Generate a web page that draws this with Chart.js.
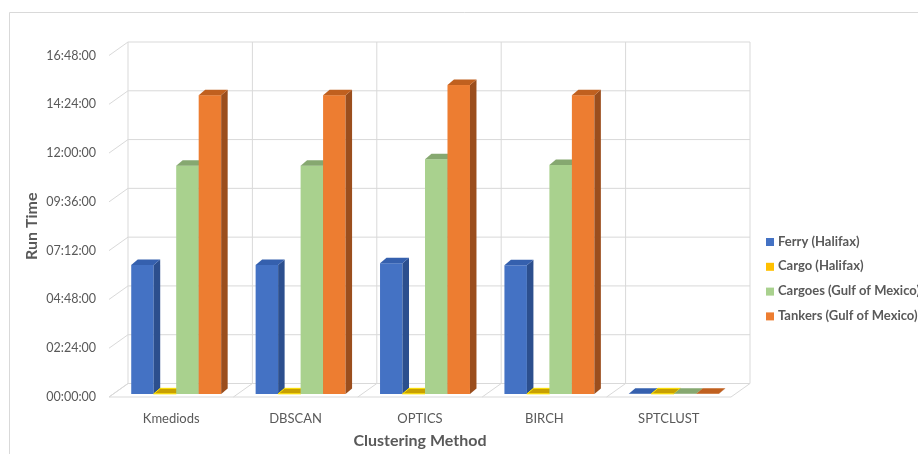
<!DOCTYPE html>
<html>
<head>
<meta charset="utf-8">
<script src="https://cdn.jsdelivr.net/npm/chart.js@4/dist/chart.umd.min.js"></script>
<style>
  html, body { margin: 0; padding: 0; background: #ffffff; }
  #wrap { position: relative; width: 918px; height: 454px; }
</style>
</head>
<body>
<div id="wrap"><canvas id="runtime" width="918" height="454"></canvas></div>
<script>
// Run time of each clustering method per dataset (HH:MM:SS)
const methods = ['Kmediods', 'DBSCAN', 'OPTICS', 'BIRCH', 'SPTCLUST'];
const ferryHalifax   = ['06:21:00', '06:21:00', '06:26:00', '06:20:00', '00:00:30'];
const cargoHalifax   = ['00:00:30', '00:00:30', '00:00:30', '00:00:30', '00:00:30'];
const cargoesGulf    = ['11:14:00', '11:14:00', '11:33:00', '11:16:00', '00:00:30'];
const tankersGulf    = ['14:42:00', '14:42:00', '15:12:00', '14:42:00', '00:00:30'];
const seriesNames = ['Ferry (Halifax)', 'Cargo (Halifax)', 'Cargoes (Gulf of Mexico)', 'Tankers (Gulf of Mexico)'];
const timeTicks = ['00:00:00', '02:24:00', '04:48:00', '07:12:00', '09:36:00', '12:00:00', '14:24:00', '16:48:00'];

// Face colours for the box-shaped bars
const frontColors = ['#4472C4', '#FFC000', '#A9D18E', '#ED7D31'];
const sideColors  = ['#2C4F8E', '#B08500', '#7C9D66', '#9B4E1D'];
const topColors   = ['#3560AE', '#C8A000', '#86A870', '#C0601F'];
const edgeColors  = [null, '#FFE400', null, null];

const toSeconds = s => { const [h, m, sec] = s.split(':').map(Number); return h * 3600 + m * 60 + sec; };

const TEXT = '#595959';
const GRID = '#D9D9D9';
const FONT = 'Lato, "Open Sans", sans-serif';
const WALL = { x: 19, y: -13.5 };     // depth of the back wall
const SHIFT = { x: 5, y: -3 };        // bars stand a little behind the front edge
const DEPTH = { x: 6.5, y: -5.5 };    // depth of each bar

function line(ctx, x1, y1, x2, y2) {
  ctx.beginPath(); ctx.moveTo(x1, y1); ctx.lineTo(x2, y2); ctx.stroke();
}
function poly(ctx, pts, fill, stroke) {
  ctx.beginPath();
  ctx.moveTo(pts[0][0], pts[0][1]);
  for (let i = 1; i < pts.length; i++) ctx.lineTo(pts[i][0], pts[i][1]);
  ctx.closePath();
  ctx.fillStyle = fill; ctx.fill();
  if (stroke) { ctx.strokeStyle = stroke; ctx.lineWidth = 1; ctx.stroke(); }
}

const box3d = {
  id: 'box3d',
  beforeDraw(chart) {
    const { ctx, chartArea: a } = chart;
    const ys = chart.scales.y, xs = chart.scales.x;
    ctx.save();
    ctx.fillStyle = '#ffffff';
    ctx.fillRect(0, 0, chart.width, chart.height);
    // outer frame
    ctx.strokeStyle = '#D9D9D9'; ctx.lineWidth = 1;
    line(ctx, 9.5, 12.5, chart.width + 2, 12.5);
    line(ctx, 9.5, 12.5, 9.5, chart.height + 2);

    ctx.strokeStyle = GRID; ctx.lineWidth = 1;
    // back wall gridlines and side wall diagonals
    ys.ticks.forEach(t => {
      const y = ys.getPixelForValue(t.value);
      line(ctx, a.left, y, a.left + WALL.x, y + WALL.y);
      line(ctx, a.left + WALL.x, y + WALL.y, a.right + WALL.x, y + WALL.y);
    });
    // category dividers on the back wall and floor
    const cw = (a.right - a.left) / methods.length;
    for (let i = 0; i <= methods.length; i++) {
      const x = (i < methods.length ? xs.getPixelForValue(i) - cw / 2 : xs.getPixelForValue(i - 1) + cw / 2);
      line(ctx, x + WALL.x, a.top + WALL.y, x + WALL.x, a.bottom + WALL.y);
      line(ctx, x, a.bottom, x + WALL.x, a.bottom + WALL.y);
    }
    // floor front edge
    line(ctx, a.left, a.bottom, a.right, a.bottom);
    ctx.restore();
  },
  beforeDatasetsDraw(chart) {
    const { ctx } = chart;
    ctx.save();
    chart.data.datasets.forEach((ds, di) => {
      const meta = chart.getDatasetMeta(di);
      meta.data.forEach(bar => {
        const p = bar.getProps(['x', 'y', 'base', 'width'], true);
        const l = p.x - p.width / 2 + SHIFT.x, r = p.x + p.width / 2 + SHIFT.x;
        const t = p.y + SHIFT.y, b = p.base + SHIFT.y;
        // front face
        ctx.fillStyle = frontColors[di];
        ctx.fillRect(l, t, r - l, b - t);
        // side face
        poly(ctx, [[r, t], [r + DEPTH.x, t + DEPTH.y], [r + DEPTH.x, b + DEPTH.y], [r, b]], sideColors[di]);
        // top face
        poly(ctx, [[l, t], [l + DEPTH.x, t + DEPTH.y], [r + DEPTH.x, t + DEPTH.y], [r, t]], topColors[di], edgeColors[di]);
      });
    });
    ctx.restore();
    return false;
  },
  afterDraw(chart) {
    const { ctx, chartArea: a } = chart;
    ctx.save();
    ctx.font = 'bold 13px ' + FONT;
    ctx.textBaseline = 'middle';
    ctx.textAlign = 'left';
    seriesNames.forEach((name, i) => {
      const cy = 241.5 + i * 24.8;
      const x = a.right + 35;
      ctx.fillStyle = frontColors[i];
      ctx.fillRect(x, cy - 3.5, 8, 8);
      ctx.fillStyle = TEXT;
      ctx.fillText(name, x + 12, cy);
    });
    ctx.restore();
  }
};

const series = [ferryHalifax, cargoHalifax, cargoesGulf, tankersGulf];

new Chart(document.getElementById('runtime'), {
  type: 'bar',
  data: {
    labels: methods,
    datasets: series.map((vals, i) => ({
      label: seriesNames[i],
      data: vals.map(toSeconds),
      backgroundColor: frontColors[i],
      barPercentage: 1,
      categoryPercentage: 0.723
    }))
  },
  options: {
    responsive: false,
    animation: false,
    devicePixelRatio: 1,
    layout: { padding: { left: 0, top: 55.5, right: 187, bottom: 0 } },
    plugins: {
      legend: { display: false },
      tooltip: { enabled: false }
    },
    scales: {
      x: {
        grid: { display: false, drawTicks: false, tickLength: 0 },
        border: { display: false },
        ticks: { color: TEXT, font: { family: FONT, size: 13 }, padding: 14, maxRotation: 0 },
        title: { display: true, text: 'Clustering Method', color: TEXT, font: { family: FONT, size: 16, weight: 'bold' }, padding: { top: 0, bottom: 4 } },
        afterFit(scale) { scale.height = 454 - 397; }
      },
      y: {
        min: 0,
        max: toSeconds(timeTicks[timeTicks.length - 1]),
        grid: { display: false, drawTicks: false, tickLength: 0 },
        border: { display: false },
        ticks: {
          stepSize: toSeconds(timeTicks[1]),
          color: TEXT,
          font: { family: FONT, size: 12.5 },
          padding: 13,
          callback: (v, i) => timeTicks[i]
        },
        title: { display: true, text: 'Run Time', color: TEXT, font: { family: FONT, size: 16, weight: 'bold' }, padding: { top: 22, bottom: 0 } },
        afterFit(scale) { scale.width = 109; }
      }
    }
  },
  plugins: [box3d]
});
</script>
</body>
</html>
